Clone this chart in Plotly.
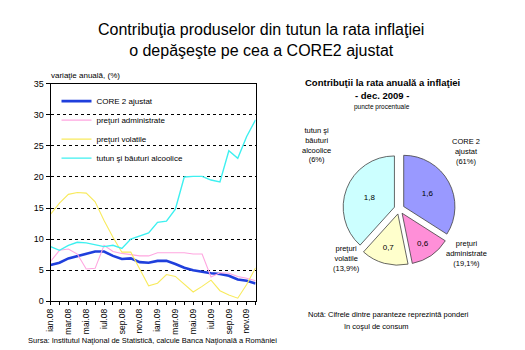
import plotly.graph_objects as go

# ---------------- data ----------------
months = ["ian.08", "feb.08", "mar.08", "apr.08", "mai.08", "iun.08", "iul.08", "aug.08",
          "sep.08", "oct.08", "nov.08", "dec.08", "ian.09", "feb.09", "mar.09", "apr.09",
          "mai.09", "iun.09", "iul.09", "aug.09", "sep.09", "oct.09", "nov.09", "dec.09"]

core2 = [5.85, 6.2, 6.9, 7.3, 7.7, 8.0, 8.0, 7.3, 6.8, 6.9, 6.3, 6.2,
         6.5, 6.5, 6.0, 5.4, 5.0, 4.7, 4.5, 4.4, 4.1, 3.5, 3.3, 2.85]
administrate = [6.4, 8.2, 8.4, 7.6, 5.2, 5.3, 9.0, 8.0, 7.7, 7.5, 7.3, 7.3,
                7.8, 7.8, 7.8, 7.8, 7.6, 7.6, 3.9, 4.6, 4.5, 4.0, 3.7, 3.3]
volatile = [14.0, 15.8, 17.2, 17.5, 17.4, 16.0, 13.0, 10.3, 7.9, 7.9, 5.2, 2.5,
            2.9, 4.3, 4.0, 2.8, 1.5, 2.4, 3.4, 1.7, 1.0, 0.5, 2.7, 5.4]
tutun = [8.8, 8.2, 9.0, 9.5, 9.4, 9.1, 8.8, 9.0, 8.5, 10.0, 10.5, 11.0,
         12.7, 12.9, 14.8, 20.0, 20.1, 20.1, 19.5, 19.2, 24.2, 23.0, 26.5, 29.2]

series_names = ["CORE 2 ajustat", "preţuri administrate", "preţuri volatile",
                "tutun şi băuturi alcoolice"]

pie_labels = ["CORE 2<br>ajustat", "preţuri<br>administrate", "preţuri<br>volatile",
              "tutun şi<br>băuturi<br>alcoolice"]
pie_values = [1.6, 0.6, 0.7, 1.8]
pie_weights = ["61", "19,1", "13,9", "6"]

# ---------------- styles ----------------
FONT = "Arial, Liberation Sans, sans-serif"
line_styles = [
    dict(color="#1f3fdc", width=2.6),
    dict(color="#ffa6e0", width=1.1),
    dict(color="#f8ea5c", width=1.1),
    dict(color="#3ef0f0", width=1.4),
]
pie_colors = ["#9999ff", "#ff8fd8", "#ffffcc", "#ccffff"]

fig = go.Figure()

for name, ys, st in zip(series_names, [core2, administrate, volatile, tutun], line_styles):
    fig.add_trace(go.Scatter(x=months, y=ys, mode="lines", name=name, line=st,
                             xaxis="x", yaxis="y"))

fig.add_trace(go.Pie(
    labels=series_names, values=pie_values, sort=False, direction="clockwise",
    rotation=0, pull=[0.1, 0.1, 0.1, 0.1],
    marker=dict(colors=pie_colors, line=dict(color="#404040", width=0.8)),
    texttemplate="%{value:.1f}", textposition="inside", insidetextorientation="horizontal",
    textfont=dict(size=8, color="black", family=FONT),
    domain=dict(x=[340 / 525, 456 / 525], y=[1 - 268 / 350, 1 - 152 / 350]),
    showlegend=False, hoverinfo="label+value",
))

tickvals = months
ticktext = [m if i % 2 == 0 else "" for i, m in enumerate(months)]

annotations = [
    dict(text="Contribuţia produselor din tutun la rata inflaţiei<br>o depăşeşte pe cea a CORE2 ajustat",
         x=258 / 525, y=1 - 36 / 350, xref="paper", yref="paper", showarrow=False,
         xanchor="center", yanchor="middle", font=dict(size=16, color="black", family=FONT)),
    dict(text="variaţie anuală, (%)", x=44 / 525, y=1 - 73 / 350, xref="paper", yref="paper",
         showarrow=False, xanchor="left", yanchor="middle", font=dict(size=8, color="black", family=FONT)),
    dict(text="<b>Contribuţii la rata anuală a inflaţiei</b>", x=381 / 525, y=1 - 80 / 350,
         xref="paper", yref="paper", showarrow=False, xanchor="center", yanchor="middle",
         font=dict(size=9.5, color="black", family=FONT)),
    dict(text="<b>- dec. 2009 -</b>", x=381 / 525, y=1 - 93 / 350,
         xref="paper", yref="paper", showarrow=False, xanchor="center", yanchor="middle",
         font=dict(size=9.5, color="black", family=FONT)),
    dict(text="puncte procentuale", x=381 / 525, y=1 - 105 / 350,
         xref="paper", yref="paper", showarrow=False, xanchor="center", yanchor="middle",
         font=dict(size=6.5, color="black", family=FONT)),
    dict(text="Notă: Cifrele dintre paranteze reprezintă ponderi", x=387 / 525, y=1 - 319 / 350,
         xref="paper", yref="paper", showarrow=False, xanchor="center", yanchor="middle",
         font=dict(size=7.5, color="black", family=FONT)),
    dict(text="în coşul de consum", x=339 / 525, y=1 - 331 / 350,
         xref="paper", yref="paper", showarrow=False, xanchor="left", yanchor="middle",
         font=dict(size=7.5, color="black", family=FONT)),
    dict(text="Sursa: Institutul Naţional de Statistică, calcule Banca Naţională a României",
         x=21 / 525, y=1 - 338.5 / 350, xref="paper", yref="paper", showarrow=False,
         xanchor="left", yanchor="top", font=dict(size=7.5, color="black", family=FONT)),
]

label_pos = [(465, 151), (466, 256), (345, 261), (314, 144)]
for lab, w, (px, py) in zip(pie_labels, pie_weights, label_pos):
    annotations.append(dict(text=f"{lab}<br>({w}%)", x=px / 525, y=1 - py / 350,
                            xref="paper", yref="paper", showarrow=False,
                            xanchor="center", yanchor="middle", align="center",
                            font=dict(size=7.5, color="black", family=FONT)))

fig.update_layout(
    width=525, height=350, margin=dict(l=0, r=0, t=0, b=0),
    paper_bgcolor="white", plot_bgcolor="white",
    separators=", ",
    font=dict(family=FONT, color="black"),
    xaxis=dict(domain=[46 / 525, 253 / 525], type="category", range=[0, 23],
               tickmode="array", tickvals=tickvals, ticktext=ticktext, tickangle=-90,
               ticks="outside", ticklen=3, tickcolor="black", showgrid=False,
               showline=True, linecolor="black", linewidth=1, mirror=True,
               tickfont=dict(size=8.5, color="black", family=FONT), zeroline=False),
    yaxis=dict(domain=[1 - 305 / 350, 1 - 81 / 350], range=[0, 35], dtick=5,
               ticks="outside", ticklen=4, tickcolor="black",
               showgrid=True, gridcolor="black", griddash="dot", gridwidth=1,
               showline=True, linecolor="black", linewidth=1, mirror=True,
               tickfont=dict(size=9, color="black", family=FONT), zeroline=False),
    legend=dict(x=52 / 525, y=1 - 84 / 350, xanchor="left", yanchor="top",
                bgcolor="rgba(255,255,255,0)", borderwidth=0,
                font=dict(size=8, color="black", family=FONT),
                itemwidth=30, tracegroupgap=0),
    annotations=annotations,
)

fig.write_html("out.html")
